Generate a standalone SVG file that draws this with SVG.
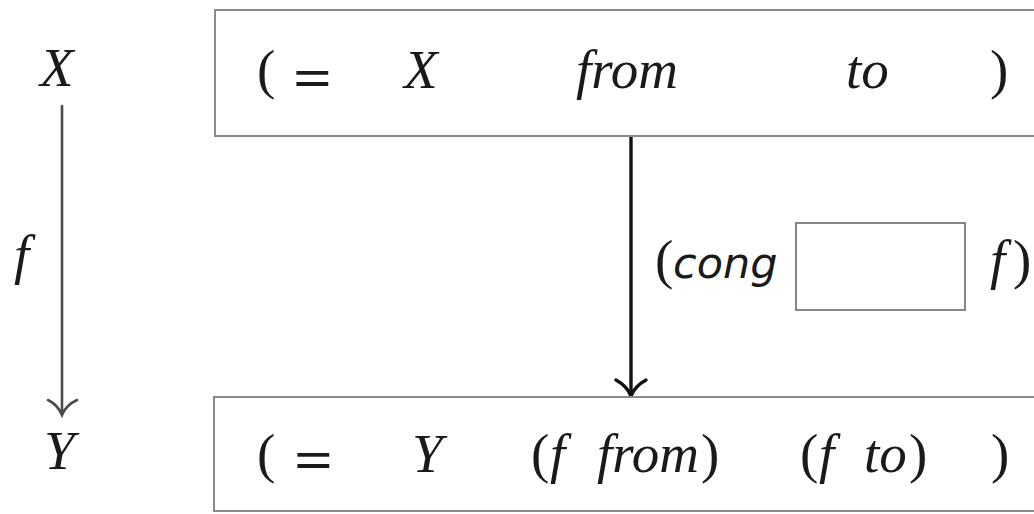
<svg xmlns="http://www.w3.org/2000/svg" width="1034" height="514" viewBox="0 0 1034 514">
  <style>
    .t { font-family: "Liberation Serif", "Times New Roman", serif; font-size: 55px; fill: #1a1a1a; }
    .i { font-style: italic; }
    .eq { font-weight: bold; }
    .s { font-family: "DejaVu Sans", "Liberation Sans", sans-serif; font-style: italic; font-size: 43px; fill: #1a1a1a; }
    .box { fill: #ffffff; stroke: #8a8a8a; stroke-width: 2; }
    .hole { fill: #ffffff; stroke: #7a7a7a; stroke-width: 1.8; }
  </style>
  <rect width="1034" height="514" fill="#ffffff"/>

  <g id="left-diagram">
    <text class="t i" x="40" y="86" font-size="55">X</text>
    <text class="t i" x="14" y="273" font-size="52">f</text>
    <text class="t i" x="44" y="469" font-size="53">Y</text>
  </g>

  <g id="connectors" fill="none" stroke-linecap="round">
    <g id="arrow-f" stroke="#4a4a4a" stroke-width="2.6">
      <line x1="62" y1="106" x2="62" y2="414"/>
      <path d="M48,400 Q58,405 62,415 Q66,405 77,400"/>
    </g>
    <g id="arrow-cong" stroke="#111111" stroke-width="3.4">
      <line x1="631" y1="137" x2="631" y2="395"/>
      <path d="M616,380 Q627,386 631,396 Q635,386 646,380"/>
    </g>
  </g>

  <g id="top-node">
    <rect class="box" x="215" y="10" width="830" height="126"/>
    <text class="t" x="257" y="88">(</text>
    <text class="t eq" x="293" y="96" textLength="39" lengthAdjust="spacingAndGlyphs">=</text>
    <text class="t i" x="404" y="88">X</text>
    <text class="t i" x="576" y="88">from</text>
    <text class="t i" x="846" y="88">to</text>
    <text class="t" x="990" y="88">)</text>
  </g>

  <g id="cong-label">
    <text class="t" x="655" y="278" font-size="50">(</text>
    <text class="s" x="673" y="278">cong</text>
    <rect class="hole" x="796" y="223" width="169" height="87"/>
    <text class="t i" x="990" y="278" font-size="50">f</text>
    <text class="t" x="1013" y="278" font-size="50">)</text>
  </g>

  <g id="bottom-node">
    <rect class="box" x="214" y="397" width="831" height="114"/>
    <text class="t" x="257" y="472">(</text>
    <text class="t eq" x="294" y="478" textLength="39" lengthAdjust="spacingAndGlyphs">=</text>
    <text class="t i" x="412" y="472">Y</text>
    <text class="t" x="531" y="472">(</text>
    <text class="t i" x="550" y="472">f</text>
    <text class="t i" x="597" y="472">from</text>
    <text class="t" x="701" y="472">)</text>
    <text class="t" x="800" y="472">(</text>
    <text class="t i" x="819" y="472">f</text>
    <text class="t i" x="864" y="472">to</text>
    <text class="t" x="909" y="472">)</text>
    <text class="t" x="991" y="472">)</text>
  </g>
</svg>
